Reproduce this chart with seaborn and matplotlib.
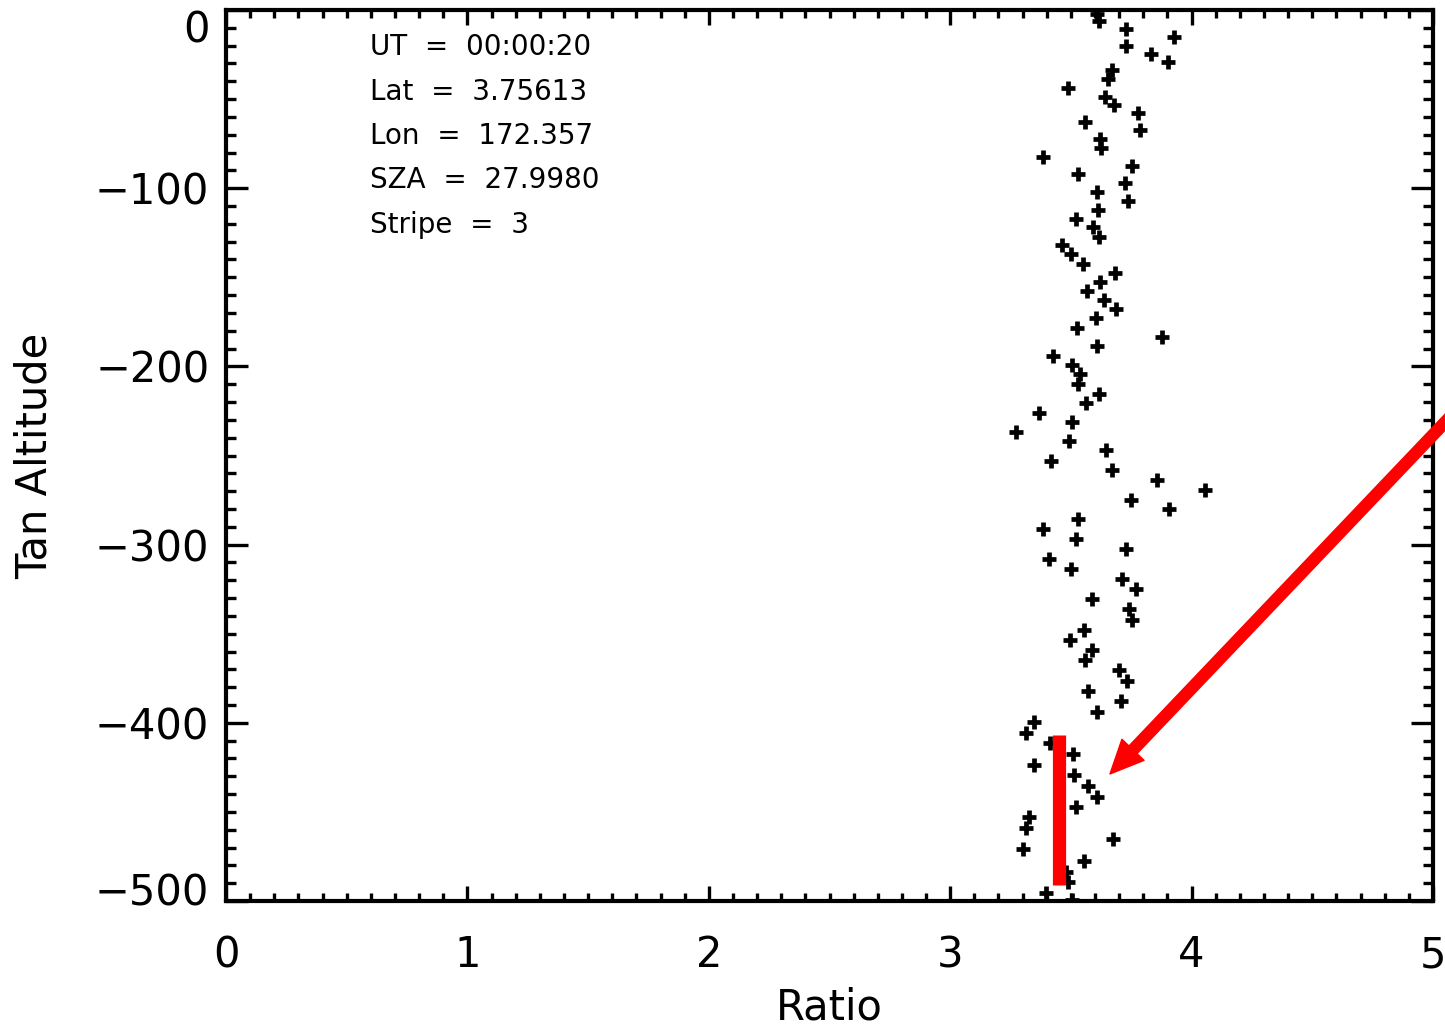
import matplotlib
matplotlib.use("Agg")
import matplotlib.pyplot as plt
import matplotlib.transforms as mtransforms
from matplotlib.ticker import MultipleLocator
import numpy as np
import pandas as pd
import seaborn as sns

# Ratio profile versus tangent altitude
tan_altitude = [-2.2, -6.2, -10.8, -15.3, -20.0, -24.7, -29.3, -33.8, -38.9, -43.6,
                -48.7, -53.3, -58.0, -62.7, -67.3, -72.4, -77.3, -82.3, -87.4, -92.2,
                -97.1, -102.0, -107.2, -112.2, -117.1, -121.9, -127.2, -132.0, -137.1, -142.4,
                -147.4, -152.6, -157.7, -162.9, -168.0, -173.0, -178.3, -183.3, -188.7, -194.0,
                -199.0, -204.3, -210.0, -215.3, -220.5, -226.0, -231.2, -236.6, -242.0, -247.1,
                -253.1, -258.3, -263.7, -269.2, -274.7, -280.2, -285.8, -291.4, -296.9, -302.4,
                -308.0, -313.6, -319.2, -324.8, -330.6, -336.1, -342.3, -347.8, -353.5, -359.1,
                -364.9, -370.5, -376.5, -382.2, -388.0, -394.1, -399.7, -405.6, -411.5, -417.5,
                -423.5, -429.3, -435.3, -441.5, -447.1, -453.0, -459.0, -465.0, -471.0, -477.4,
                -483.6, -489.5, -495.3, -499.4]
ratio = [3.607, 3.616, 3.728, 3.928, 3.728, 3.831, 3.901, 3.669, 3.652, 3.487,
         3.641, 3.679, 3.777, 3.558, 3.786, 3.621, 3.625, 3.386, 3.754, 3.528,
         3.724, 3.607, 3.735, 3.611, 3.521, 3.590, 3.616, 3.464, 3.499, 3.551,
         3.683, 3.621, 3.565, 3.638, 3.687, 3.603, 3.524, 3.876, 3.608, 3.427,
         3.506, 3.538, 3.529, 3.615, 3.563, 3.368, 3.503, 3.271, 3.492, 3.645,
         3.416, 3.671, 3.855, 4.054, 3.750, 3.908, 3.528, 3.386, 3.520, 3.727,
         3.408, 3.500, 3.712, 3.768, 3.587, 3.742, 3.752, 3.554, 3.498, 3.586,
         3.560, 3.700, 3.732, 3.572, 3.708, 3.609, 3.348, 3.313, 3.413, 3.507,
         3.347, 3.513, 3.572, 3.607, 3.520, 3.328, 3.314, 3.673, 3.300, 3.554,
         3.478, 3.489, 3.396, 3.503]

# Mean ratio over the lower altitude band
band_ratio = 3.45
band_altitude = [-407, -491]

# Pointer arrow (tail, head) in data units
arrow_tail = (5.2, -210.0)
arrow_head = (3.662, -428.7)

info_lines = ["UT  =  00:00:20", "Lat  =  3.75613", "Lon  =  172.357",
              "SZA  =  27.9980", "Stripe  =  3"]

x_ticks = [0, 1, 2, 3, 4, 5]
y_ticks = [0, -100, -200, -300, -400, -500]

sns.set_style("white")
plt.rcParams["font.family"] = ["DejaVu Sans"]
plt.rcParams["axes.unicode_minus"] = True
plt.rcParams["text.color"] = "black"
plt.rcParams["axes.labelcolor"] = "black"
plt.rcParams["xtick.color"] = "black"
plt.rcParams["ytick.color"] = "black"
plt.rcParams["xtick.labelcolor"] = "black"
plt.rcParams["ytick.labelcolor"] = "black"

fig = plt.figure(figsize=(14.45, 10.31), dpi=100)
ax = fig.add_axes([226 / 1445, 1 - 901 / 1031, (1433 - 226) / 1445, (901 - 10) / 1031])

df = pd.DataFrame({"Ratio": ratio, "Tan Altitude": tan_altitude})
sns.scatterplot(data=df, x="Ratio", y="Tan Altitude", marker="+", s=100,
                color="black", linewidth=3.4, ax=ax, zorder=3, legend=False)

ax.plot([band_ratio, band_ratio], band_altitude, color="red", lw=9.5,
        solid_capstyle="butt", zorder=4)

ax.annotate("", xy=arrow_head, xytext=arrow_tail, xycoords="data", textcoords="data",
            annotation_clip=False,
            arrowprops=dict(facecolor="red", edgecolor="red", width=8,
                            headwidth=22, headlength=24, shrink=0),
            zorder=5)

ax.set_xlim(0, 5)
ax.set_ylim(-500, 0)
ax.set_xticks(x_ticks)
ax.set_xticklabels([str(v) for v in x_ticks])
ax.set_yticks(y_ticks)
ax.set_yticklabels([f"{v}".replace("-", "\u2212") for v in y_ticks])
ax.xaxis.set_minor_locator(MultipleLocator(0.1))
ax.yaxis.set_minor_locator(MultipleLocator(10))

for s in ax.spines.values():
    s.set_linewidth(3.0)
    s.set_color("black")

ax.tick_params(axis="x", which="major", direction="in", length=11, width=2.4,
               top=True, bottom=True, labelsize=30, pad=24, color="black")
ax.tick_params(axis="x", which="minor", direction="in", length=5.5, width=2.4,
               top=True, bottom=True, color="black")
ax.tick_params(axis="y", which="major", direction="in", length=16, width=2.4,
               left=True, right=True, labelsize=30, pad=12, color="black")
ax.tick_params(axis="y", which="minor", direction="in", length=7.5, width=2.4,
               left=True, right=True, color="black")

ax.set_xlabel("Ratio", fontsize=30, labelpad=7)
ax.set_ylabel("Tan Altitude", fontsize=30, labelpad=28)

# keep the end labels of the altitude axis inside the frame
ylabels = ax.get_yticklabels()
down = mtransforms.ScaledTranslation(0, -16 / 100, fig.dpi_scale_trans)
up = mtransforms.ScaledTranslation(0, 12 / 100, fig.dpi_scale_trans)
ylabels[0].set_transform(ylabels[0].get_transform() + down)
ylabels[-1].set_transform(ylabels[-1].get_transform() + up)

baseline0 = 55
for i, line in enumerate(info_lines):
    ypix = baseline0 + i * 44.5
    ax.text((370 - 226) / 1207, 1 - (ypix - 10) / 891, line,
            transform=ax.transAxes, fontsize=20, va="baseline", ha="left",
            color="black")

fig.savefig("out.png", dpi=100, facecolor="white")
